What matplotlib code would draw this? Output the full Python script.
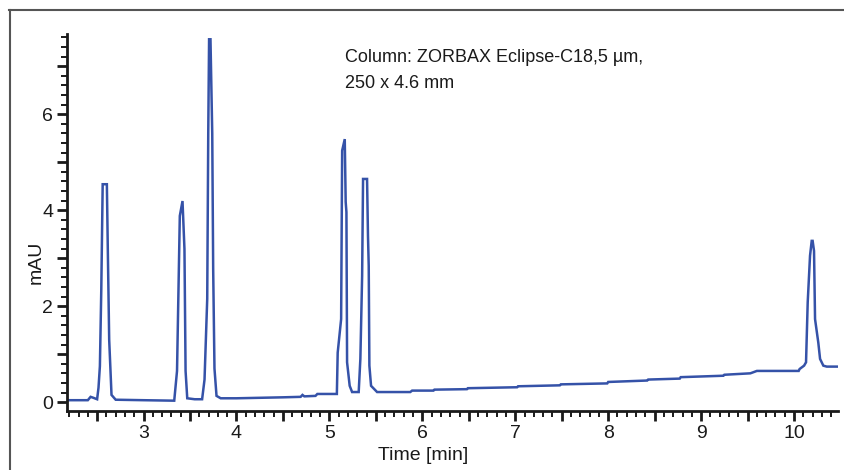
import matplotlib
matplotlib.use("Agg")
import matplotlib.pyplot as plt
from matplotlib.ticker import MultipleLocator, FuncFormatter
from matplotlib.lines import Line2D

plt.rcParams['font.family'] = ['Liberation Sans', 'DejaVu Sans']

# ── chromatogram trace ────────────────────────────────────────────────────
time_min = [2.18, 2.40, 2.43, 2.46, 2.50, 2.515, 2.53, 2.545, 2.56, 2.605,
            2.615, 2.63, 2.655, 2.70, 3.00, 3.33,
            3.36, 3.39, 3.419, 3.44, 3.452, 3.47, 3.55, 3.63,
            3.656, 3.685, 3.696, 3.705, 3.72, 3.739, 3.749, 3.763, 3.785, 3.83,
            4.00, 4.50, 4.69, 4.71, 4.73, 4.85, 4.87, 5.08,
            5.089, 5.126, 5.137, 5.165, 5.175, 5.183, 5.19, 5.218, 5.244, 5.315,
            5.333, 5.352, 5.362, 5.405, 5.415, 5.423, 5.43, 5.448, 5.513,
            5.87, 5.89, 6.12, 6.13, 6.48, 6.49, 7.02, 7.03, 7.48, 7.49,
            7.99, 8.00, 8.42, 8.43, 8.77, 8.78, 9.24, 9.25, 9.53,
            9.60, 10.05, 10.06, 10.108, 10.129, 10.147, 10.172, 10.19, 10.20,
            10.215, 10.226, 10.261, 10.28, 10.315, 10.352, 10.47]
mau = [0.04, 0.04, 0.11, 0.09, 0.06, 0.3, 0.75, 2.35, 4.54, 4.54,
       3.2, 1.3, 0.15, 0.05, 0.04, 0.03,
       0.65, 3.88, 4.19, 3.19, 0.65, 0.08, 0.06, 0.06,
       0.47, 2.15, 5.6, 7.56, 7.56, 5.6, 2.78, 0.70, 0.13, 0.08,
       0.08, 0.10, 0.11, 0.15, 0.12, 0.13, 0.17, 0.17,
       1.03, 1.73, 5.24, 5.48, 4.17, 3.96, 0.83, 0.34, 0.21, 0.21,
       0.90, 2.63, 4.65, 4.65, 3.46, 2.84, 0.76, 0.34, 0.21,
       0.21, 0.24, 0.24, 0.26, 0.27, 0.29, 0.31, 0.33, 0.35, 0.37,
       0.39, 0.42, 0.45, 0.47, 0.49, 0.52, 0.55, 0.57, 0.60,
       0.65, 0.65, 0.69, 0.76, 0.83, 2.08, 3.05, 3.36, 3.36,
       3.15, 1.73, 1.24, 0.90, 0.76, 0.74, 0.74]

x_labels = [3, 4, 5, 6, 7, 8, 9, 10]
y_labels = [0, 2, 4, 6]

fig = plt.figure(figsize=(8.44, 4.70), dpi=100)
ax = fig.add_axes([67 / 844, 1 - 411 / 470, (838 - 67) / 844, (411 - 34) / 470])

ax.plot(time_min, mau, color="#3552A8", lw=1.8, solid_joinstyle="miter")

ax.set_xlim(2.176, 10.473)
ax.set_ylim(-0.185, 7.67)

for s in ("top", "right"):
    ax.spines[s].set_visible(False)
for s in ("left", "bottom"):
    ax.spines[s].set_linewidth(2.0)
    ax.spines[s].set_color("#1a1a1a")

ax.xaxis.set_major_locator(MultipleLocator(0.5))
ax.xaxis.set_minor_locator(MultipleLocator(0.1))
ax.yaxis.set_major_locator(MultipleLocator(1))
ax.yaxis.set_minor_locator(MultipleLocator(0.2))
ax.xaxis.set_major_formatter(FuncFormatter(
    lambda v, p: f"{int(round(v))}" if abs(v - round(v)) < 1e-6 and round(v) in x_labels else ""))
ax.yaxis.set_major_formatter(FuncFormatter(
    lambda v, p: f"{int(round(v))}" if abs(v - round(v)) < 1e-6 and round(v) in y_labels else ""))

ax.tick_params(axis="both", which="major", length=7, width=2.0, color="#1a1a1a",
               labelsize=14, labelcolor="#1a1a1a", direction="out")
ax.tick_params(axis="both", which="minor", length=4, width=1.4, color="#1a1a1a",
               direction="out")
ax.tick_params(axis="x", which="major", pad=3)
ax.tick_params(axis="y", which="major", pad=3)

fig.text(423 / 844, 1 - 455 / 470, "Time [min]", fontsize=14, color="#1a1a1a",
         ha="center", va="center")
fig.text(36 / 844, 1 - 262 / 470, "mAU", fontsize=14, color="#1a1a1a",
         ha="center", va="center", rotation=90)

fig.text(345 / 844, 1 - 57 / 470, "Column: ZORBAX Eclipse-C18,5 µm,",
         fontsize=13, color="#1a1a1a", ha="left", va="center")
fig.text(345 / 844, 1 - 84 / 470, "250 x 4.6 mm",
         fontsize=13, color="#1a1a1a", ha="left", va="center")

# figure frame (top and left edges visible)
fig.add_artist(Line2D([9 / 844, 1.0], [1 - 9.5 / 470, 1 - 9.5 / 470],
                      transform=fig.transFigure, color="#555555", lw=1.5))
fig.add_artist(Line2D([9.5 / 844, 9.5 / 844], [0.0, 1 - 9.5 / 470],
                      transform=fig.transFigure, color="#555555", lw=1.5))

fig.savefig("out.png", dpi=100, facecolor="white")
